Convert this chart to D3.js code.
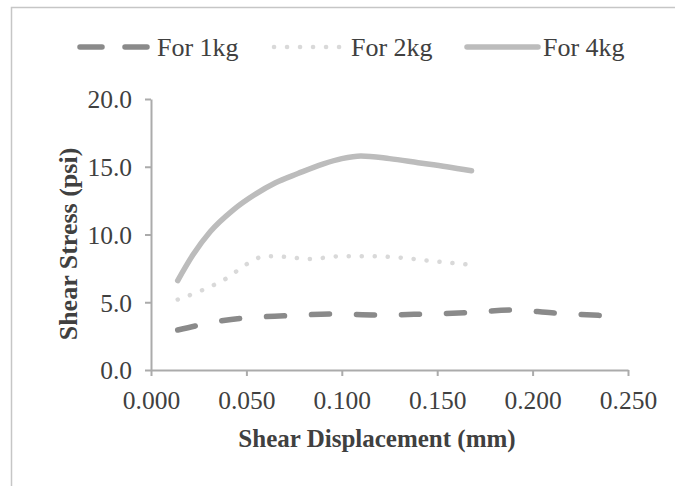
<!DOCTYPE html>
<html><head><meta charset="utf-8">
<script src="https://cdn.jsdelivr.net/npm/d3@7"></script>
<style>body{margin:0;background:#fff}svg{display:block}</style>
</head><body>
<svg id="c" width="675" height="486"></svg>
<script>
const xTicks = [0, 0.05, 0.10, 0.15, 0.20, 0.25];
const yTicks = [0, 5, 10, 15, 20];
const seriesNames = ["For 1kg", "For 2kg", "For 4kg"];
const disp1kg = [0.014,0.025,0.038,0.050,0.070,0.095,0.120,0.143,0.165,0.190,0.210,0.235];
const stress1kg = [2.95,3.3,3.65,3.85,4.0,4.13,4.06,4.13,4.23,4.43,4.22,4.03];
const disp2kg = [0.014,0.027,0.040,0.050,0.060,0.070,0.083,0.100,0.115,0.130,0.150,0.165];
const stress2kg = [5.2,5.9,6.8,7.8,8.4,8.35,8.2,8.4,8.4,8.3,8.0,7.8];
const disp4kg = [0.014,0.022,0.031,0.043,0.055,0.065,0.077,0.090,0.100,0.110,0.125,0.140,0.155,0.168];
const stress4kg = [6.6,8.5,10.2,11.8,13.0,13.8,14.5,15.2,15.6,15.8,15.6,15.3,15.0,14.7];

const svg = d3.select("#c");
const font = "'Liberation Serif','Times New Roman',serif";
const txt = "#404040";

// outer frame
svg.append("path").attr("d","M11.5,486 V7.5 H675").attr("fill","none").attr("stroke","#c6c6c6").attr("stroke-width",1.5);

const x = d3.scaleLinear().domain([0,0.25]).range([151,628]);
const y = d3.scaleLinear().domain([0,20]).range([370,99]);

const styles = [
  {stroke:"#8a8a8a", width:5.5, dash:"18,27", legDash:"22,23"},
  {stroke:"#d9d9d9", width:4.5, dash:"0.1,12.9", legDash:"0.1,12.9"},
  {stroke:"#bcbcbc", width:5.5, dash:null, legDash:null}
];
const data = [
  disp1kg.map((d,i)=>[d,stress1kg[i]]),
  disp2kg.map((d,i)=>[d,stress2kg[i]]),
  disp4kg.map((d,i)=>[d,stress4kg[i]])
];

// axes
const yAxis = d3.axisLeft(y).tickValues(yTicks).tickFormat(d3.format(".1f")).tickSize(6).tickSizeOuter(0);
const xAxis = d3.axisBottom(x).tickValues(xTicks).tickFormat(d3.format(".3f")).tickSize(6).tickSizeOuter(0);
const gy = svg.append("g").attr("transform","translate(151,0)").call(yAxis);
const gx = svg.append("g").attr("transform","translate(0,370)").call(xAxis);
[gy,gx].forEach(g=>{
  g.select(".domain").attr("stroke","#ababab").attr("stroke-width",2);
  g.selectAll(".tick line").attr("stroke","#ababab").attr("stroke-width",2);
  g.selectAll(".tick text").attr("fill",txt).attr("font-family",font).attr("font-size",25.5);
});
gy.selectAll(".tick text").attr("x",-19).attr("dy","0.35em");
gx.selectAll(".tick text").attr("y",21);

// lines
const line = d3.line().x(d=>x(d[0])).y(d=>y(d[1])).curve(d3.curveMonotoneX);
data.forEach((d,i)=>{
  svg.append("path").datum(d).attr("d",line).attr("fill","none")
    .attr("stroke",styles[i].stroke).attr("stroke-width",styles[i].width)
    .attr("stroke-linecap","round").attr("stroke-linejoin","round")
    .attr("stroke-dasharray",styles[i].dash);
});

// titles
svg.append("text").attr("x",377).attr("y",447).attr("text-anchor","middle")
  .attr("font-family",font).attr("font-weight","bold").attr("font-size",25).attr("fill",txt)
  .text("Shear Displacement (mm)");
svg.append("text").attr("transform","translate(77,244) rotate(-90)").attr("text-anchor","middle")
  .attr("font-family",font).attr("font-weight","bold").attr("font-size",26).attr("fill",txt)
  .text("Shear Stress (psi)");

// legend
const legX = [[80,148,157],[274,341,351],[467,538,543]];
seriesNames.forEach((n,i)=>{
  svg.append("line").attr("x1",legX[i][0]).attr("x2",legX[i][1]).attr("y1",47).attr("y2",47)
    .attr("stroke",styles[i].stroke).attr("stroke-width",styles[i].width)
    .attr("stroke-linecap","round").attr("stroke-dasharray",styles[i].legDash);
  svg.append("text").attr("x",legX[i][2]).attr("y",47).attr("dy","0.35em")
    .attr("font-family",font).attr("font-size",26).attr("fill",txt).text(n);
});
</script>
</body></html>
